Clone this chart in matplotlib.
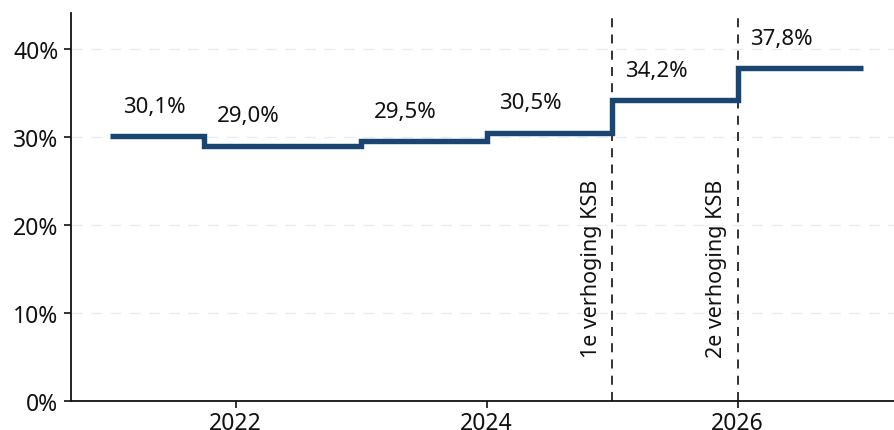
import matplotlib
matplotlib.use("Agg")
import matplotlib.pyplot as plt

plt.rcParams['font.family'] = ['Noto Sans', 'DejaVu Sans']

# Data
period_starts = [2021.0, 2021.75, 2023.0, 2024.0, 2025.0, 2026.0]
period_end = 2027.0
values = [30.1, 29.0, 29.5, 30.5, 34.2, 37.8]
value_labels = ["30,1%", "29,0%", "29,5%", "30,5%", "34,2%", "37,8%"]
event_years = [2025.0, 2026.0]
event_labels = ["1e verhoging KSB", "2e verhoging KSB"]
x_ticks = [2022, 2024, 2026]
y_ticks = [0, 10, 20, 30, 40]

fig = plt.figure(figsize=(8.94, 4.31), dpi=100)
ax = fig.add_axes([0.0794, 0.0673, 0.9206, 0.9002])

# grid
for yt in y_ticks[1:]:
    ax.axhline(yt, color='#ececec', lw=1.0, ls=(0, (8, 6)), zorder=0)

xs = period_starts + [period_end]
ys = values + [values[-1]]
ax.plot(xs, ys, drawstyle='steps-post', color='#1a4571', lw=3.9,
        solid_joinstyle='miter', solid_capstyle='butt', zorder=3)

for x0, v, lab in zip(period_starts, values, value_labels):
    ax.text(x0 + 0.1, v + 3.4, lab, ha='left', va='center', fontsize=16, color='#111111')

for xe, lab in zip(event_years, event_labels):
    ax.axvline(xe, color='#222222', lw=1.3, ls=(0, (5, 4)), zorder=2)
    ax.text(xe - 0.085, 5.0, lab, rotation=90, ha='right', va='bottom',
            fontsize=15.5, color='#111111')

ax.set_xlim(2020.688, 2027.245)
ax.set_ylim(0, 44.1)
ax.set_xticks(x_ticks)
ax.set_xticklabels([str(t) for t in x_ticks])
ax.set_yticks(y_ticks)
ax.set_yticklabels([f"{t}%" for t in y_ticks])
ax.tick_params(axis='both', labelsize=16.5, colors='#111111', length=5, width=1.2)
ax.tick_params(axis='x', pad=2)
ax.tick_params(axis='y', pad=4)
for s in ['top', 'right']:
    ax.spines[s].set_visible(False)
for s in ['left', 'bottom']:
    ax.spines[s].set_linewidth(1.3)
    ax.spines[s].set_color('#111111')

fig.savefig('out.png', dpi=100)
